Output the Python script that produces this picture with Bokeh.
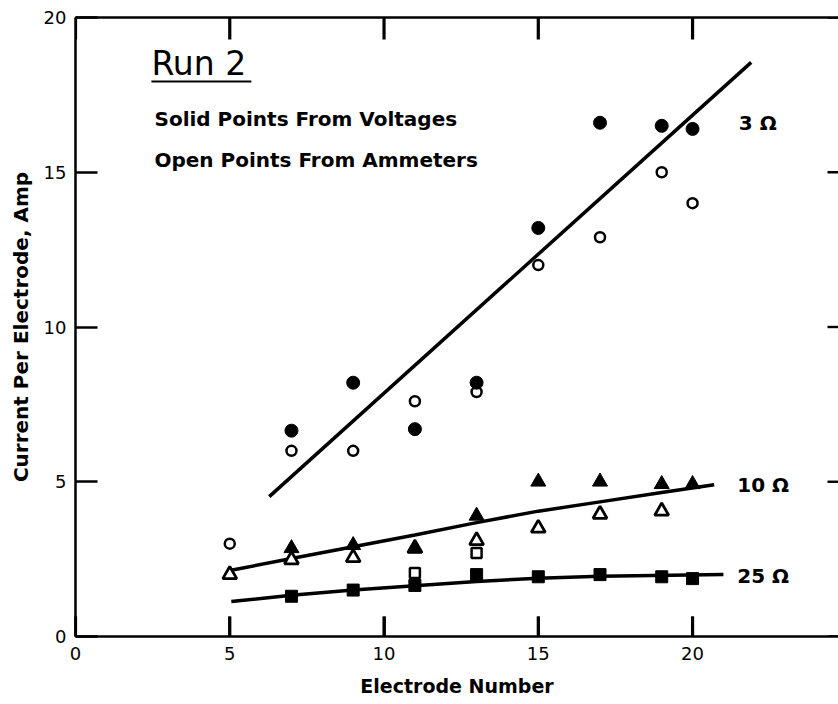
from bokeh.plotting import figure
from bokeh.models import Range1d, LinearAxis, FixedTicker
from bokeh.core.properties import value
from bokeh.embed import file_html
from bokeh.resources import INLINE

FONT = "DejaVu Sans"

# ---- data ----
electrodes = [7, 9, 11, 13, 15, 17, 19, 20]
r3_solid = [6.65, 8.2, 6.7, 8.2, 13.2, 16.6, 16.5, 16.4]
r3_open_x = [5, 7, 9, 11, 13, 15, 17, 19, 20]
r3_open = [3.0, 6.0, 6.0, 7.6, 7.9, 12.0, 12.9, 15.0, 14.0]
r10_solid = [2.85, 2.95, 2.85, 3.9, 5.0, 5.0, 4.92, 4.92]
r10_open_x = [5, 7, 9, 11, 13, 15, 17, 19]
r10_open = [2.0, 2.48, 2.55, 2.85, 3.1, 3.5, 3.95, 4.05]
r25_solid = [1.3, 1.5, 1.65, 2.0, 1.93, 2.0, 1.93, 1.87]
r25_open_x = [11, 13]
r25_open = [2.05, 2.7]

fit3_x = [6.28, 21.9]
fit3_y = [4.52, 18.55]
fit10_x = [5.0, 7, 9, 11, 13, 15, 17, 19, 20.7]
fit10_y = [2.13, 2.52, 2.9, 3.28, 3.68, 4.05, 4.35, 4.65, 4.9]
fit25_x = [5.05, 7, 9, 11, 13, 15, 17, 21.0]
fit25_y = [1.13, 1.33, 1.5, 1.64, 1.78, 1.88, 1.95, 2.0]

x_ticks = [0, 5, 10, 15, 20]
y_ticks = [0, 5, 10, 15, 20]
X_START, X_END = 0, 24.73
Y_START, Y_END = 0, 20

series_labels = ["3 \u03a9", "10 \u03a9", "25 \u03a9"]
series_label_x = [21.5, 21.45, 21.45]
series_label_y = [16.6, 4.9, 1.94]

# inward tick sizes in data units (frame: ~30.9 px per unit on both axes)
TICK_HALF_W = 0.052
TOP_TICK_LEN = 0.71
BOTTOM_TICK_LEN = 0.65

p = figure(width=838, height=704, output_backend="svg", toolbar_location=None,
           x_range=Range1d(X_START, X_END), y_range=Range1d(Y_START, Y_END),
           min_border_left=75, min_border_right=0, min_border_top=17,
           min_border_bottom=68, x_axis_label="Electrode Number",
           y_axis_label="Current Per Electrode, Amp")
p.outline_line_color = None
p.background_fill_color = "white"
p.border_fill_color = "white"
p.grid.visible = False

for ax, tick_in, ticks in ((p.xaxis[0], 20, x_ticks), (p.yaxis[0], 22, y_ticks)):
    ax.ticker = FixedTicker(ticks=ticks)
    ax.major_tick_in = tick_in
    ax.major_tick_out = 0
    ax.minor_tick_line_color = None
    ax.axis_line_width = 2.5
    ax.major_tick_line_width = 2.6
    ax.axis_line_color = "black"
    ax.major_tick_line_color = "black"
    ax.major_label_text_font = FONT
    ax.major_label_text_font_size = "18px"
    ax.major_label_text_color = "black"
    ax.axis_label_text_font = FONT
    ax.axis_label_text_font_size = "19px"
    ax.axis_label_text_font_style = "bold"
    ax.axis_label_text_color = "black"
p.xaxis[0].major_label_standoff = 10
p.xaxis[0].axis_label_standoff = 12
p.yaxis[0].major_label_standoff = 9
p.yaxis[0].axis_label_standoff = 8
p.yaxis[0].axis_label_text_font_size = "20px"

# top frame line (no labels)
top = LinearAxis(ticker=FixedTicker(ticks=x_ticks), major_tick_in=0, major_tick_out=0,
                 major_label_overrides={t: "" for t in x_ticks}, major_label_standoff=0,
                 minor_tick_line_color=None, axis_line_width=2.5)
p.add_layout(top, "above")

# inward ticks on top and bottom edges drawn as thin filled bars
p.quad(left=[t - TICK_HALF_W for t in x_ticks], right=[t + TICK_HALF_W for t in x_ticks],
       top=[Y_END] * len(x_ticks), bottom=[Y_END - TOP_TICK_LEN] * len(x_ticks),
       fill_color="black", line_color=None)
p.quad(left=[t - TICK_HALF_W for t in x_ticks], right=[t + TICK_HALF_W for t in x_ticks],
       top=[Y_START + BOTTOM_TICK_LEN] * len(x_ticks), bottom=[Y_START] * len(x_ticks),
       fill_color="black", line_color=None)
# inward ticks on the right edge
p.scatter(x=[X_END] * len(y_ticks), y=y_ticks, marker="dash",
          size=22, line_width=2.4, line_color="black")

# fitted lines
p.line(fit3_x, fit3_y, line_width=3.5, color="black")
p.line(fit10_x, fit10_y, line_width=3.5, color="black")
p.line(fit25_x, fit25_y, line_width=3.5, color="black")

# markers
p.scatter(r3_open_x, r3_open, marker="circle", size=10, fill_color="white",
          line_color="black", line_width=2.5)
p.scatter(electrodes, r3_solid, marker="circle", size=13, fill_color="black", line_color="black")
p.scatter(r10_open_x, r10_open, marker="triangle", size=14, fill_color="white",
          line_color="black", line_width=2.8)
p.scatter(electrodes, r10_solid, marker="triangle", size=15, fill_color="black", line_color="black")
p.scatter(r25_open_x, r25_open, marker="square", size=10, fill_color="white",
          line_color="black", line_width=2.5)
p.scatter(electrodes, r25_solid, marker="square", size=12, fill_color="black", line_color="black")

# annotations
p.text(x=[2.46], y=[18.52], text=["Run 2"], text_font=value(FONT), text_font_size="33px",
       text_baseline="middle", text_color="black")
p.segment(x0=[2.46], y0=[17.93], x1=[5.7], y1=[17.93], line_width=2, color="black")
p.text(x=[2.56, 2.56], y=[16.71, 15.4],
       text=["Solid Points From Voltages", "Open Points From Ammeters"],
       text_font=value(FONT), text_font_size="20px", text_font_style="bold",
       text_baseline="middle", text_color="black")
p.text(x=series_label_x, y=series_label_y, text=series_labels, text_font=value(FONT),
       text_font_size="20px", text_font_style="bold", text_baseline="middle",
       text_color="black")

open("out.html", "w").write(file_html(p, INLINE))
